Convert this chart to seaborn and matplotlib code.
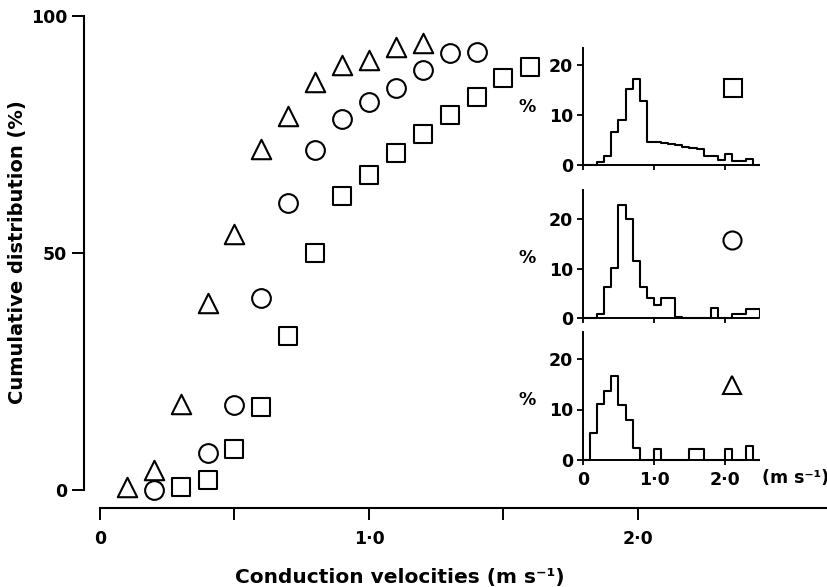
import numpy as np
import pandas as pd
import matplotlib
matplotlib.use('Agg')
import matplotlib.pyplot as plt
import seaborn as sns
from matplotlib.lines import Line2D

# Cumulative distribution (%) against conduction velocity (m/s), one list per group
tri_vel = [0.1, 0.2, 0.3, 0.4, 0.5, 0.6, 0.7, 0.8, 0.9, 1.0, 1.1, 1.2]
tri_cum = [0.6, 4.2, 18.1, 39.5, 54.0, 72.0, 79.0, 86.0, 89.7, 90.7, 93.5, 94.3]

circ_vel = [0.2, 0.4, 0.5, 0.6, 0.7, 0.8, 0.9, 1.0, 1.1, 1.2, 1.3, 1.4]
circ_cum = [0.0, 7.8, 17.9, 40.5, 60.5, 71.7, 78.3, 81.9, 84.8, 88.6, 92.2, 92.4]

sq_vel = [0.3, 0.4, 0.5, 0.6, 0.7, 0.8, 0.9, 1.0, 1.1, 1.2, 1.3, 1.4, 1.5, 1.6]
sq_cum = [0.6, 2.1, 8.6, 17.5, 32.5, 50.0, 62.0, 66.5, 71.1, 75.1, 79.1, 82.9, 86.9, 89.2]

# Inset histograms: % of fibres in each 0.1 m/s bin
bin_edges = [0.0, 0.1, 0.2, 0.3, 0.4, 0.5, 0.6, 0.7, 0.8, 0.9, 1.0, 1.1, 1.2, 1.3,
             1.4, 1.5, 1.6, 1.7, 1.8, 1.9, 2.0, 2.1, 2.2, 2.3, 2.4, 2.5, 2.6]
sq_hist = [0, 0, 0.7, 1.8, 6.7, 9.0, 15.3, 17.3, 12.8, 4.7, 4.7, 4.4, 4.3,
           4.0, 3.7, 3.4, 3.3, 1.8, 1.8, 1.0, 2.3, 0.9, 0.9, 1.3, 0, 0]
circ_hist = [0, 0, 0.8, 6.3, 10.2, 22.8, 19.9, 11.6, 6.3, 4.0, 2.6, 4.1, 4.1,
             0.3, 0, 0, 0, 0, 2.1, 0, 0, 0.8, 0.8, 1.8, 1.8, 0]
tri_hist = [0, 5.4, 11.1, 13.7, 16.6, 10.8, 7.9, 2.4, 0, 0, 2.2, 0, 0,
            0, 0, 2.2, 2.2, 0, 0, 0, 2.2, 0, 0, 2.7, 0, 0]

sns.set_style('ticks')
plt.rcParams['font.family'] = ['DejaVu Sans']
plt.rcParams['font.weight'] = 'bold'
for key in ['text.color', 'axes.labelcolor', 'xtick.color', 'ytick.color', 'axes.edgecolor']:
    plt.rcParams[key] = 'black'

W, H = 828, 587
fig = plt.figure(figsize=(W / 100, H / 100), dpi=100)


def rect(x0, y0, x1, y1):
    # pixel box (origin top-left) -> figure fraction
    return [x0 / W, 1 - y1 / H, (x1 - x0) / W, (y1 - y0) / H]


# ---- main panel ----
ax = fig.add_axes(rect(84, 10, 828, 508))
mk = dict(facecolor='white', edgecolor='black', linewidth=1.5, clip_on=False, zorder=3)
sns.scatterplot(x=tri_vel, y=tri_cum, marker='^', s=196, ax=ax, **mk)
sns.scatterplot(x=circ_vel, y=circ_cum, marker='o', s=182, ax=ax, **mk)
sns.scatterplot(x=sq_vel, y=sq_cum, marker='s', s=169, ax=ax, **mk)

ppx, ppy = 269, 4.74   # pixels per unit
ax.set_xlim(-16 / ppx, 728 / ppx)
ax.set_ylim(-18 / ppy, 480 / ppy)
ax.spines[['top', 'right']].set_visible(False)
ax.spines['left'].set_bounds(0, 100)
ax.spines['bottom'].set_bounds(0, 2.7)
for s in ['left', 'bottom']:
    ax.spines[s].set_linewidth(1.5)
ax.set_xticks([0, 0.5, 1.0, 1.5, 2.0], ['0', '', '1·0', '', '2·0'])
ax.set_yticks([0, 50, 100], ['0', '50', '100'])
ax.tick_params(direction='out', length=8.6, width=1.4, labelsize=12.5)
ax.tick_params(axis='x', pad=7)
ax.tick_params(axis='y', pad=3.6)
ax.set_xlabel('')
ax.set_ylabel('')

fig.text(400 / W, 1 - 577 / H, 'Conduction velocities (m s⁻¹)',
         ha='center', va='center', fontsize=14.5, fontweight='bold')
fig.text(18 / W, 1 - 252 / H, 'Cumulative distribution (%)', rotation=90,
         ha='center', va='center', fontsize=14, fontweight='bold')

# ---- insets ----
centers = [e + 0.05 for e in bin_edges[:-1]]
ipx = 71  # inset pixels per m/s
insets = [
    # hist, marker, spine top px, zero px, px per %, marker pos, % label y
    (sq_hist, 's', 48, 165, 5.0, (0.845, 0.657), 0.506, False),
    (circ_hist, 'o', 190, 318, 4.95, (0.84, 0.609), 0.479, False),
    (tri_hist, '^', 332, 460, 5.05, (0.84, 0.586), 0.479, True),
]
for hist, m, top_px, zero_px, ppu, mpos, lab_y, show_x in insets:
    y_top = (zero_px - top_px) / ppu
    bottom_px = zero_px + 0.5 * ppu
    axi = fig.add_axes(rect(583, top_px, 583 + 2.5 * ipx, bottom_px))
    axi.patch.set_alpha(0)
    sns.histplot(x=centers, weights=hist, bins=bin_edges, element='step',
                 fill=False, color='black', linewidth=1.5, ax=axi)
    axi.set_xlim(0, 2.5)
    axi.set_ylim(-0.5, y_top)
    axi.spines[['top', 'right']].set_visible(False)
    axi.spines['bottom'].set_position(('data', 0))
    axi.spines['bottom'].set_bounds(0, 2.47)
    axi.spines['left'].set_bounds(0, y_top)
    for s in ['left', 'bottom']:
        axi.spines[s].set_linewidth(1.4)
    axi.set_yticks([0, 10, 20], ['0', '10', '20'])
    axi.set_xticks([0, 1, 2], ['0', '1·0', '2·0'] if show_x else ['', '', ''])
    axi.tick_params(direction='out', width=1.3, labelsize=12.5)
    axi.tick_params(axis='y', length=4.3, pad=2.9)
    axi.tick_params(axis='x', length=3.6, pad=4)
    axi.set_xlabel('')
    axi.set_ylabel('%', rotation=0, fontsize=12.5, fontweight='bold',
                   ha='center', va='center')
    axi.yaxis.set_label_coords(-0.315, lab_y)
    h = Line2D([], [], marker=m, ls='none', mfc='white', mec='black', ms=13, mew=1.5)
    axi.legend([h], [''], loc='center', bbox_to_anchor=mpos, frameon=False,
               handlelength=1.0, handletextpad=0, borderpad=0, borderaxespad=0)
    if show_x:
        axi.text(1.008, -0.119, '(m s⁻¹)', transform=axi.transAxes,
                 ha='left', va='center', fontsize=12.5, fontweight='bold')

fig.savefig('out.png', dpi=100)
